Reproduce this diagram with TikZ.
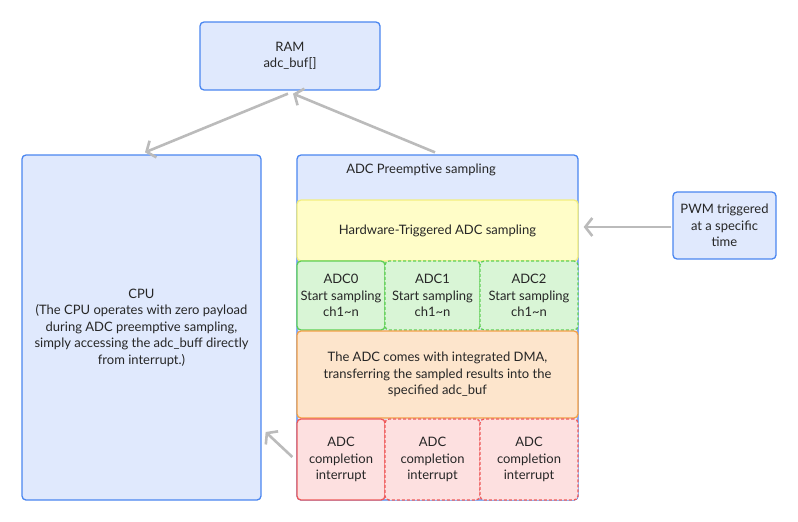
\documentclass[tikz,border=0pt]{standalone}
\usepackage{fontspec}
\setmainfont{Lato}
\usetikzlibrary{arrows.meta}
\definecolor{bblue}{HTML}{4A86F0}
\definecolor{bfill}{HTML}{E0E9FD}
\definecolor{yline}{HTML}{F3EE7E}
\definecolor{yfill}{HTML}{FFFDC8}
\definecolor{gline}{HTML}{5FCF55}
\definecolor{gfill}{HTML}{D9F5D6}
\definecolor{oline}{HTML}{F5A146}
\definecolor{ofill}{HTML}{FDE5CC}
\definecolor{rline}{HTML}{EF5A5A}
\definecolor{rfill}{HTML}{FDE0E0}
\definecolor{arr}{HTML}{BBBBBB}
\begin{document}
\begin{tikzpicture}[x=1pt,y=-1pt,
  every node/.style={font=\fontsize{13}{16.5}\selectfont, text=black!85, align=center, inner sep=0pt},
  bx/.style={draw=bblue, fill=bfill, rounded corners=4pt, line width=1.3pt},
  ybx/.style={draw=yline, fill=yfill, rounded corners=4pt, line width=1.3pt},
  gbx/.style={draw=gline, fill=gfill, rounded corners=4pt, line width=1.3pt},
  obx/.style={draw=oline, fill=ofill, rounded corners=4pt, line width=1.3pt},
  rbx/.style={draw=rline, fill=rfill, rounded corners=4pt, line width=1.3pt},
  dsh/.style={dash pattern=on 3pt off 2pt},
  conn/.style={draw=arr, line width=2.6pt, -{Straight Barb[length=7pt,width=18pt]}}
]
\useasboundingbox (0,0) rectangle (798,522);
\node[bx, minimum width=180pt, minimum height=68pt] (ram) at (290,56) {RAM\\adc\_buf[]};
\node[bx, minimum width=239pt, minimum height=345pt] (cpu) at (141.5,327.5) {CPU\\(The CPU operates with zero payload\\during ADC preemptive sampling,\\simply accessing the adc\_buff directly\\from interrupt.)};
\node[bx, minimum width=281pt, minimum height=345pt] (adc) at (437.5,327.5) {};
\node (title) at (421,170) {ADC Preemptive sampling};
\node[ybx, minimum width=281pt, minimum height=61pt] (hw) at (437.5,230.5) {Hardware-Triggered ADC sampling};
\node[gbx, minimum width=88pt, minimum height=69pt] (a0) at (341,295.5) {ADC0\\Start sampling\\ch1\textasciitilde n};
\node[gbx, dsh, minimum width=95pt, minimum height=69pt] (a1) at (432.5,295.5) {ADC1\\Start sampling\\ch1\textasciitilde n};
\node[gbx, dsh, minimum width=98pt, minimum height=69pt] (a2) at (529,295.5) {ADC2\\Start sampling\\ch1\textasciitilde n};
\node[obx, minimum width=281pt, minimum height=87pt] (dma) at (437.5,374.5) {The ADC comes with integrated DMA,\\transferring the sampled results into the\\specified adc\_buf};
\node[rbx, minimum width=88pt, minimum height=81pt] (r0) at (341,459.5) {ADC\\completion\\interrupt};
\node[rbx, dsh, minimum width=95pt, minimum height=81pt] (r1) at (432.5,459.5) {ADC\\completion\\interrupt};
\node[rbx, dsh, minimum width=98pt, minimum height=81pt] (r2) at (529,459.5) {ADC\\completion\\interrupt};
\node[bx, minimum width=103pt, minimum height=67pt] (pwm) at (724.5,225.5) {PWM triggered\\at a specific\\time};
\draw[conn] ([shift={(-2,3)}]ram.south) -- ([shift={(3.5,-2)}]cpu.north);
\draw[conn] ([shift={(-2.5,-2)}]adc.north) -- ([shift={(3,3)}]ram.south);
\draw[conn] ([shift={(-1,1.5)}]pwm.west) -- ([shift={(5,-3.5)}]hw.east);
\draw[conn] ([shift={(-4,-2.5)}]r0.west) -- ([shift={(4,104.5)}]cpu.east);
\end{tikzpicture}
\end{document}
